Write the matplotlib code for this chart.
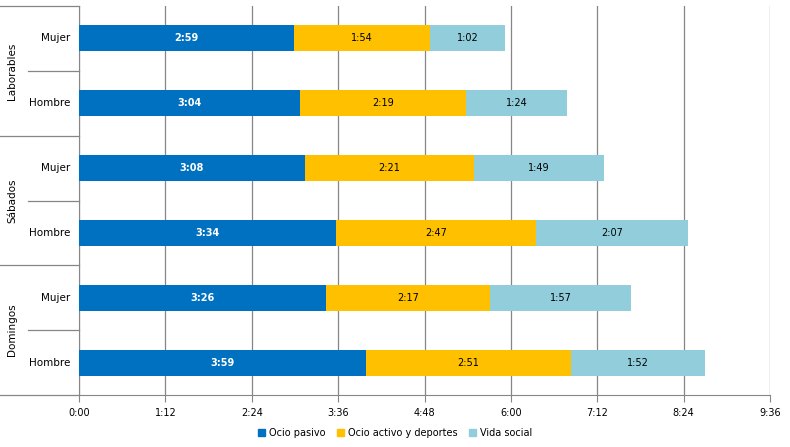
import matplotlib

matplotlib.use("Agg")
import matplotlib.pyplot as plt
from matplotlib.patches import Patch

GROUPS = ["Laborables", "Sábados", "Domingos"]
SEXES = ["Mujer", "Hombre"]
SERIES = ["Ocio pasivo", "Ocio activo y deportes", "Vida social"]
# minutes per day, rows top to bottom: Lab-M, Lab-H, Sab-M, Sab-H, Dom-M, Dom-H
OCIO_PASIVO = [179, 184, 188, 214, 206, 239]
OCIO_ACTIVO = [114, 139, 141, 167, 137, 171]
VIDA_SOCIAL = [62, 84, 109, 127, 117, 112]
XTICKS = [0, 72, 144, 216, 288, 360, 432, 504, 576]

COLORS = ["#0070C0", "#FFC000", "#92CDDC"]
GRID = "#868686"


def hm(m):
    return f"{int(m) // 60}:{int(m) % 60:02d}"


plt.rcParams["font.family"] = ["DejaVu Sans"]
fig = plt.figure(figsize=(7.9, 4.47), dpi=100)
ax = fig.add_axes([79 / 790, 1 - 395 / 447, 691 / 790, 389 / 447])

rows = list(range(len(OCIO_PASIVO)))
left = [0] * len(rows)
for name, vals, col in zip(SERIES, [OCIO_PASIVO, OCIO_ACTIVO, VIDA_SOCIAL], COLORS):
    ax.barh(rows, vals, left=left, height=0.4, color=col, zorder=3, label=name)
    for y, l, v in zip(rows, left, vals):
        first = name == SERIES[0]
        ax.text(l + v / 2, y, hm(v), ha="center", va="center", fontsize=7,
                color="white" if first else "black",
                fontweight="bold" if first else "normal", zorder=4)
    left = [a + b for a, b in zip(left, vals)]

ax.set_xlim(0, 576)
ax.set_ylim(5.5, -0.5)
ax.set_xticks(XTICKS)
ax.set_xticklabels([hm(t) for t in XTICKS], fontsize=7)
ax.set_yticks([])
ax.tick_params(axis="x", length=5, color=GRID, pad=4)
ax.grid(axis="x", color=GRID, lw=0.9, zorder=0)
for s in ["top", "right"]:
    ax.spines[s].set_visible(False)
for s in ["left", "bottom"]:
    ax.spines[s].set_color(GRID)

# category axis: sub labels, group labels, separators
tr = ax.get_yaxis_transform()
full = -79 / 691
short = -(79 - 28) / 691
for i, y in enumerate(rows):
    ax.text(-9 / 691, y, SEXES[i % 2], transform=tr, ha="right", va="center", fontsize=7.5)
for g, name in enumerate(GROUPS):
    ax.text(-67 / 691, 2 * g + 0.5, name, transform=tr, rotation=90,
            ha="center", va="center", fontsize=7.5)
for k in range(7):
    y = k - 0.5
    x0 = full if k % 2 == 0 else short
    ax.plot([x0, 0], [y, y], transform=tr, color=GRID, lw=0.9, clip_on=False)

handles = [Patch(color=c, label=n) for c, n in zip(COLORS, SERIES)]
fig.legend(handles=handles, loc="center", bbox_to_anchor=(395 / 790, 1 - 433 / 447),
           ncol=3, frameon=False, fontsize=7, handlelength=0.7, handleheight=0.7,
           handletextpad=0.4, columnspacing=1.2)

fig.savefig("out.png", dpi=100)
